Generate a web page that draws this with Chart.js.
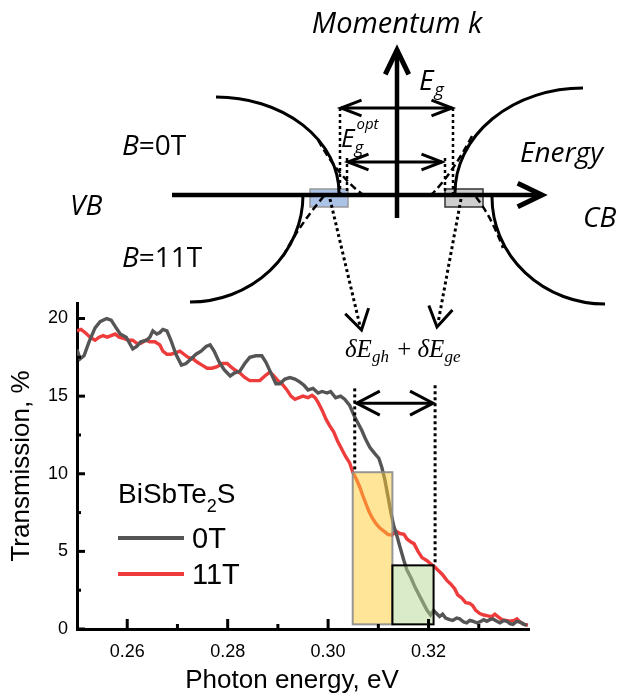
<!DOCTYPE html>
<html>
<head>
<meta charset="utf-8">
<title>BiSbTe2S transmission</title>
<script src="https://cdn.jsdelivr.net/npm/chart.js@4.4.1/dist/chart.umd.min.js"></script>
<style>
  html, body { margin: 0; padding: 0; background: #fff; }
  canvas { display: block; }
</style>
</head>
<body>
<canvas id="chart" width="617" height="700"></canvas>
<script>
// B = 0 T : photon energy (eV) / transmission (%)
var energy0T = [0.2500, 0.2506, 0.2514, 0.2524, 0.2536, 0.2546, 0.2559, 0.2568, 0.2578, 0.2586,
    0.2598, 0.2611, 0.2619, 0.2627, 0.2639, 0.2645, 0.2651, 0.2659, 0.2665, 0.2671,
    0.2679, 0.2687, 0.2697, 0.2708, 0.2717, 0.2727, 0.2737, 0.2747, 0.2757, 0.2765,
    0.2773, 0.2783, 0.2793, 0.2805, 0.2814, 0.2824, 0.2834, 0.2844, 0.2856, 0.2868,
    0.2876, 0.2886, 0.2896, 0.2904, 0.2914, 0.2924, 0.2934, 0.2944, 0.2952, 0.2960,
    0.2970, 0.2980, 0.2988, 0.2998, 0.3005, 0.3015, 0.3025, 0.3033, 0.3043, 0.3053,
    0.3067, 0.3075, 0.3083, 0.3093, 0.3101, 0.3107, 0.3113, 0.3120, 0.3125, 0.3131,
    0.3137, 0.3143, 0.3151, 0.3157, 0.3165, 0.3173, 0.3181, 0.3189, 0.3197, 0.3204,
    0.3210, 0.3216, 0.3222, 0.3228, 0.3234, 0.3242, 0.3248, 0.3256, 0.3262, 0.3270,
    0.3276, 0.3282, 0.3288, 0.3296, 0.3302, 0.3310, 0.3316, 0.3322, 0.3328, 0.3336,
    0.3342, 0.3350, 0.3356, 0.3362, 0.3368, 0.3376, 0.3382, 0.3390, 0.3396];
var trans0T = [18.0, 17.4, 17.6, 18.5, 19.4, 19.8, 20.0, 19.9, 19.4, 19.0,
    18.8, 18.05, 18.2, 18.5, 18.6, 18.8, 19.2, 19.0, 19.1, 19.3,
    19.2, 18.6, 17.7, 17.0, 17.1, 17.4, 17.7, 17.9, 18.2, 18.3,
    17.9, 17.2, 16.7, 16.3, 16.5, 16.6, 17.1, 17.5, 17.6, 17.6,
    17.2, 16.5, 15.8, 15.8, 16.1, 16.2, 16.1, 15.9, 15.7, 15.4,
    15.5, 15.2, 15.3, 15.2, 15.3, 14.9, 15.0, 14.8, 14.4, 13.65,
    12.8, 12.2, 11.7, 11.3, 11.0, 10.4, 9.6, 8.4, 7.5, 6.6,
    6.0, 5.3, 4.4, 3.8, 3.3, 2.7, 2.2, 1.7, 1.2, 0.9,
    1.2, 1.0, 0.8, 0.95, 0.7, 0.6, 0.55, 0.7, 0.65, 0.45,
    0.4, 0.55, 0.5, 0.4, 0.45, 0.6, 0.5, 0.6, 0.65, 0.5,
    0.4, 0.55, 0.5, 0.35, 0.3, 0.5, 0.45, 0.3, 0.25];

// B = 11 T
var energy11T = [0.2500, 0.2508, 0.2516, 0.2526, 0.2536, 0.2544, 0.2552, 0.2560, 0.2568, 0.2576,
    0.2584, 0.2594, 0.2603, 0.2611, 0.2619, 0.2627, 0.2637, 0.2645, 0.2655, 0.2665,
    0.2671, 0.2679, 0.2687, 0.2697, 0.2705, 0.2713, 0.2721, 0.2731, 0.2739, 0.2749,
    0.2759, 0.2769, 0.2779, 0.2789, 0.2799, 0.2806, 0.2814, 0.2824, 0.2834, 0.2844,
    0.2854, 0.2864, 0.2874, 0.2884, 0.2892, 0.2900, 0.2908, 0.2918, 0.2926, 0.2934,
    0.2942, 0.2950, 0.2960, 0.2968, 0.2974, 0.2980, 0.2988, 0.2996, 0.3003, 0.3011,
    0.3019, 0.3027, 0.3035, 0.3043, 0.3049, 0.3057, 0.3063, 0.3069, 0.3075, 0.3081,
    0.3087, 0.3095, 0.3103, 0.3111, 0.3119, 0.3127, 0.3135, 0.3143, 0.3151, 0.3157,
    0.3165, 0.3171, 0.3179, 0.3187, 0.3197, 0.3204, 0.3212, 0.3220, 0.3228, 0.3236,
    0.3244, 0.3252, 0.3258, 0.3266, 0.3274, 0.3282, 0.3288, 0.3294, 0.3302, 0.3310,
    0.3318, 0.3326, 0.3332, 0.3338, 0.3346, 0.3354, 0.3362, 0.3370, 0.3376, 0.3382,
    0.3390, 0.3398];
var trans11T = [19.2, 19.3, 19.1, 18.8, 18.6, 18.8, 18.9, 18.8, 18.9, 19.0,
    18.8, 18.7, 18.6, 18.6, 18.4, 18.4, 18.6, 18.5, 18.5, 18.3,
    17.9, 17.7, 17.7, 17.8, 17.9, 17.7, 17.5, 17.4, 17.2, 17.0,
    16.8, 16.8, 16.9, 17.1, 17.1, 16.9, 16.7, 16.5, 16.2, 16.0,
    16.0, 16.0, 16.3, 16.55, 16.3, 16.0, 15.8, 15.4, 15.0, 14.8,
    14.9, 15.0, 14.9, 15.05, 14.9, 14.6, 14.1, 13.5, 13.1, 12.7,
    12.1, 11.6, 11.1, 10.7, 10.1, 9.6, 9.15, 8.6, 8.1, 7.6,
    7.2, 6.8, 6.5, 6.3, 6.1, 6.05, 6.3, 6.15, 6.1, 5.8,
    5.6, 5.5, 5.0, 4.6, 4.4, 4.2, 4.0, 3.75, 3.5, 3.15,
    2.9, 2.6, 2.2, 2.0, 1.7, 1.65, 1.5, 1.2, 1.0, 0.9,
    0.85, 0.8, 0.95, 0.8, 0.6, 0.55, 0.5, 0.55, 0.65, 0.45,
    0.3, 0.25];

var seriesNames = ['0T', '11T'];
var xTicks = [0.26, 0.28, 0.30, 0.32];
var xTickLabels = ['0.26', '0.28', '0.30', '0.32'];
var xMinor = [0.27, 0.29, 0.31, 0.33];
var yTicks = [0, 5, 10, 15, 20];
var yTickLabels = ['0', '5', '10', '15', '20'];
var yMinor = [2.5, 7.5, 12.5, 17.5];

// shaded windows (energy from/to, top in %)
var boxFrom = [0.3049, 0.3128];
var boxTo = [0.3128, 0.3210];
var boxTop = [10.1, 4.1];
var boxBase = 0.3;
// dotted edges of the gap shift and the arrow between them
var shiftAt = [0.3053, 0.3213];
var shiftTop = [15.5, 15.7];
var shiftBottom = [10.1, 4.1];
var shiftArrowT = 14.55;

var arialFont = '"Liberation Sans", Arial, sans-serif';
var sansI = 'italic 28px "Open Sans", sans-serif';
var sans = '28px "Open Sans", sans-serif';

function pts(xs, ys) {
    return xs.map(function(x, i) { return {x: x, y: ys[i]}; });
}

function line(c, x1, y1, x2, y2) {
    c.beginPath(); c.moveTo(x1, y1); c.lineTo(x2, y2); c.stroke();
}

// open arrow head, tip at (x,y), pointing along angle a
function head(c, x, y, a, len, spread) {
    c.beginPath();
    c.moveTo(x - len * Math.cos(a - spread), y - len * Math.sin(a - spread));
    c.lineTo(x, y);
    c.lineTo(x - len * Math.cos(a + spread), y - len * Math.sin(a + spread));
    c.stroke();
}

function runText(c, x, y, parts) {
    parts.forEach(function(p) {
        c.font = p[1];
        c.fillText(p[0], x, y + (p[2] || 0));
        x += c.measureText(p[0]).width + (p[3] || 0);
    });
    return x;
}

// band diagram above the plot
function drawBands(c) {
    c.save();
    c.lineCap = 'butt';
    c.lineJoin = 'miter';

    c.lineWidth = 1.5;
    c.fillStyle = 'rgba(150,180,225,0.8)';
    c.strokeStyle = '#999';
    c.fillRect(310, 189, 38, 18); c.strokeRect(310, 189, 38, 18);
    c.fillStyle = '#cfcfcf';
    c.strokeStyle = '#333';
    c.fillRect(445, 189, 38, 18); c.strokeRect(445, 189, 38, 18);

    c.strokeStyle = '#000';
    c.lineWidth = 3;
    c.beginPath(); c.ellipse(216, 193, 123, 96, 0, -Math.PI / 2, 0); c.stroke();
    c.beginPath(); c.ellipse(190, 195, 113, 107, 0, 0, Math.PI / 2); c.stroke();
    c.beginPath(); c.ellipse(583, 193, 128, 105, 0, Math.PI, Math.PI * 1.5); c.stroke();
    c.beginPath(); c.ellipse(605, 197, 113, 107, 0, Math.PI / 2, Math.PI); c.stroke();

    // dashed branches near the gap
    c.lineWidth = 2.5;
    c.setLineDash([7, 4]);
    c.beginPath(); c.moveTo(318, 140); c.quadraticCurveTo(338, 176, 362, 194); c.stroke();
    c.beginPath(); c.moveTo(472, 136); c.quadraticCurveTo(452, 174, 432, 194); c.stroke();
    c.beginPath(); c.moveTo(324, 196); c.quadraticCurveTo(300, 224, 282, 258); c.stroke();
    c.beginPath(); c.moveTo(476, 197); c.quadraticCurveTo(491, 216, 503, 248); c.stroke();

    // dotted guides
    c.lineWidth = 2.5;
    c.setLineDash([3, 3]);
    line(c, 340, 108, 340, 194);
    line(c, 453, 108, 453, 194);
    line(c, 347, 158, 347, 194);
    line(c, 445, 158, 445, 194);
    c.lineWidth = 3;
    line(c, 330, 199, 360, 326);
    line(c, 461, 199, 438, 323);
    c.setLineDash([]);
    head(c, 361.5, 330, Math.atan2(131, 31.5), 23, 0.55);
    head(c, 437, 327, Math.atan2(127, -24), 23, 0.55);

    // gap arrows
    c.lineWidth = 3;
    line(c, 341, 108, 452, 108);
    head(c, 341, 108, Math.PI, 22, 0.37);
    head(c, 452, 108, 0, 22, 0.37);
    line(c, 348, 162, 442, 162);
    head(c, 348, 162, Math.PI, 22, 0.37);
    head(c, 442, 162, 0, 22, 0.37);

    // axes
    c.lineWidth = 4.5;
    line(c, 172, 195, 539, 195);
    line(c, 397, 218, 397, 53);
    c.lineWidth = 5;
    head(c, 542, 195, 0, 27, 0.45);
    head(c, 397, 50, -Math.PI / 2, 27, 0.45);

    // labels
    c.fillStyle = '#000';
    c.textBaseline = 'alphabetic';
    c.textAlign = 'center';
    c.font = 'italic 29px "Open Sans", sans-serif';
    c.fillText('Momentum k', 397, 33);
    c.textAlign = 'left';
    runText(c, 419, 90, [['E', sansI, 0, 1], ['g', 'italic 18px "Open Sans", sans-serif', 6]]);
    c.font = 'italic 26px "Open Sans", sans-serif';
    c.fillText('E', 341, 147);
    var ew = c.measureText('E').width;
    c.font = 'italic 17px "Open Sans", sans-serif';
    c.fillText('g', 341 + ew, 153);
    c.font = 'italic 15px "Open Sans", sans-serif';
    c.fillText('opt', 343 + ew, 129);
    runText(c, 122, 155, [['B', sansI], ['=0T', sans]]);
    runText(c, 122, 267, [['B', sansI], ['=11T', sans]]);
    c.font = sansI;
    c.fillText('VB', 70, 215);
    c.fillText('Energy', 520, 162);
    c.fillText('CB', 583, 227);

    var serI = 'italic 25px "Liberation Serif", "Times New Roman", serif';
    var serSub = 'italic 17px "Liberation Serif", "Times New Roman", serif';
    runText(c, 345, 357, [
        ['\u03b4E', serI], ['gh', serSub, 5, 2], [' + ', '25px "Liberation Serif", serif'],
        ['\u03b4E', serI], ['ge', serSub, 5]
    ]);
    c.restore();
}

var figurePlugin = {
    id: 'figureExtras',
    afterDatasetsDraw: function(chart) {
        var c = chart.ctx, xs = chart.scales.x, ys = chart.scales.y;
        c.save();
        // yellow and green windows over the curves
        var fills = ['rgba(255,204,48,0.5)', 'rgba(182,215,150,0.5)'];
        var edges = ['rgba(140,140,140,0.9)', '#000'];
        for (var i = 0; i < boxFrom.length; i++) {
            var l = xs.getPixelForValue(boxFrom[i]), r = xs.getPixelForValue(boxTo[i]);
            var t = ys.getPixelForValue(boxTop[i]), b = ys.getPixelForValue(boxBase);
            c.fillStyle = fills[i];
            c.fillRect(l, t, r - l, b - t);
            c.lineWidth = 2;
            c.strokeStyle = edges[i];
            c.strokeRect(l, t, r - l, b - t);
        }
        // dotted edges + double arrow
        c.strokeStyle = '#000';
        c.lineWidth = 3;
        c.setLineDash([3, 3]);
        for (var j = 0; j < shiftAt.length; j++) {
            var px = xs.getPixelForValue(shiftAt[j]);
            line(c, px, ys.getPixelForValue(shiftTop[j]), px, ys.getPixelForValue(shiftBottom[j]));
        }
        c.setLineDash([]);
        var ay = ys.getPixelForValue(shiftArrowT);
        var a1 = xs.getPixelForValue(shiftAt[0]) + 2, a2 = xs.getPixelForValue(shiftAt[1]) - 2;
        line(c, a1, ay, a2, ay);
        head(c, a1, ay, Math.PI, 26, 0.48);
        head(c, a2, ay, 0, 26, 0.48);
        c.restore();
    },
    afterDraw: function(chart) {
        var c = chart.ctx, xs = chart.scales.x, ys = chart.scales.y, area = chart.chartArea;
        c.save();
        // inward tick marks
        c.strokeStyle = '#000';
        c.lineWidth = 3;
        xTicks.forEach(function(v) { var p = xs.getPixelForValue(v); line(c, p, area.bottom, p, area.bottom - 10); });
        xMinor.forEach(function(v) { var p = xs.getPixelForValue(v); line(c, p, area.bottom, p, area.bottom - 5); });
        yTicks.forEach(function(v) { var p = ys.getPixelForValue(v); line(c, area.left, p, area.left + 8, p); });
        yMinor.forEach(function(v) { var p = ys.getPixelForValue(v); line(c, area.left, p, area.left + 4, p); });

        // axis titles
        c.fillStyle = '#000';
        c.textBaseline = 'alphabetic';
        c.textAlign = 'center';
        c.font = '26px ' + arialFont;
        c.fillText('Photon energy, eV', 292, 688);
        c.save();
        c.translate(29, (area.top + area.bottom) / 2);
        c.rotate(-Math.PI / 2);
        c.fillText('Transmission, %', 0, 0);
        c.restore();

        // legend
        c.textAlign = 'left';
        runText(c, 118, 503, [['BiSbTe', '28px ' + arialFont], ['2', '18px ' + arialFont, 9], ['S', '28px ' + arialFont]]);
        chart.data.datasets.forEach(function(ds, k) {
            var ly = 538 + k * 36;
            c.strokeStyle = ds.borderColor;
            c.lineWidth = 4;
            line(c, 118, ly, 184, ly);
            c.fillStyle = '#000';
            c.font = '29px ' + arialFont;
            c.fillText(ds.label, 192, ly + 10);
        });
        c.restore();

        drawBands(c);
    }
};

var ctx = document.getElementById('chart');
var myChart = new Chart(ctx, {
    type: 'line',
    data: {
        datasets: [{
            label: seriesNames[0],
            data: pts(energy0T, trans0T),
            borderColor: '#555555',
            backgroundColor: '#555555',
            borderWidth: 3.4,
            pointRadius: 0,
            tension: 0
        }, {
            label: seriesNames[1],
            data: pts(energy11T, trans11T),
            borderColor: '#ee3b3b',
            backgroundColor: '#ee3b3b',
            borderWidth: 3.4,
            pointRadius: 0,
            tension: 0
        }]
    },
    options: {
        responsive: false,
        animation: false,
        layout: { padding: { top: 303, right: 88, left: 0, bottom: 0 } },
        plugins: { legend: { display: false }, tooltip: { enabled: false } },
        scales: {
            x: {
                type: 'linear', min: 0.25, max: 0.34,
                grid: { display: false, drawTicks: false },
                border: { display: true, color: '#000', width: 3 },
                afterBuildTicks: function(s) { s.ticks = xTicks.map(function(v) { return {value: v}; }); },
                afterFit: function(s) { s.height = 71; },
                ticks: {
                    padding: 12, color: '#000', maxRotation: 0, autoSkip: false,
                    font: { family: arialFont, size: 18 },
                    callback: function(v, i) { return xTickLabels[i]; }
                }
            },
            y: {
                min: 0, max: 21,
                grid: { display: false, drawTicks: false },
                border: { display: true, color: '#000', width: 3 },
                afterBuildTicks: function(s) { s.ticks = yTicks.map(function(v) { return {value: v}; }); },
                afterFit: function(s) { s.width = 77; },
                ticks: {
                    padding: 9, color: '#000', autoSkip: false,
                    font: { family: arialFont, size: 18 },
                    callback: function(v, i) { return yTickLabels[i]; }
                }
            }
        }
    },
    plugins: [figurePlugin]
});
</script>
</body>
</html>
